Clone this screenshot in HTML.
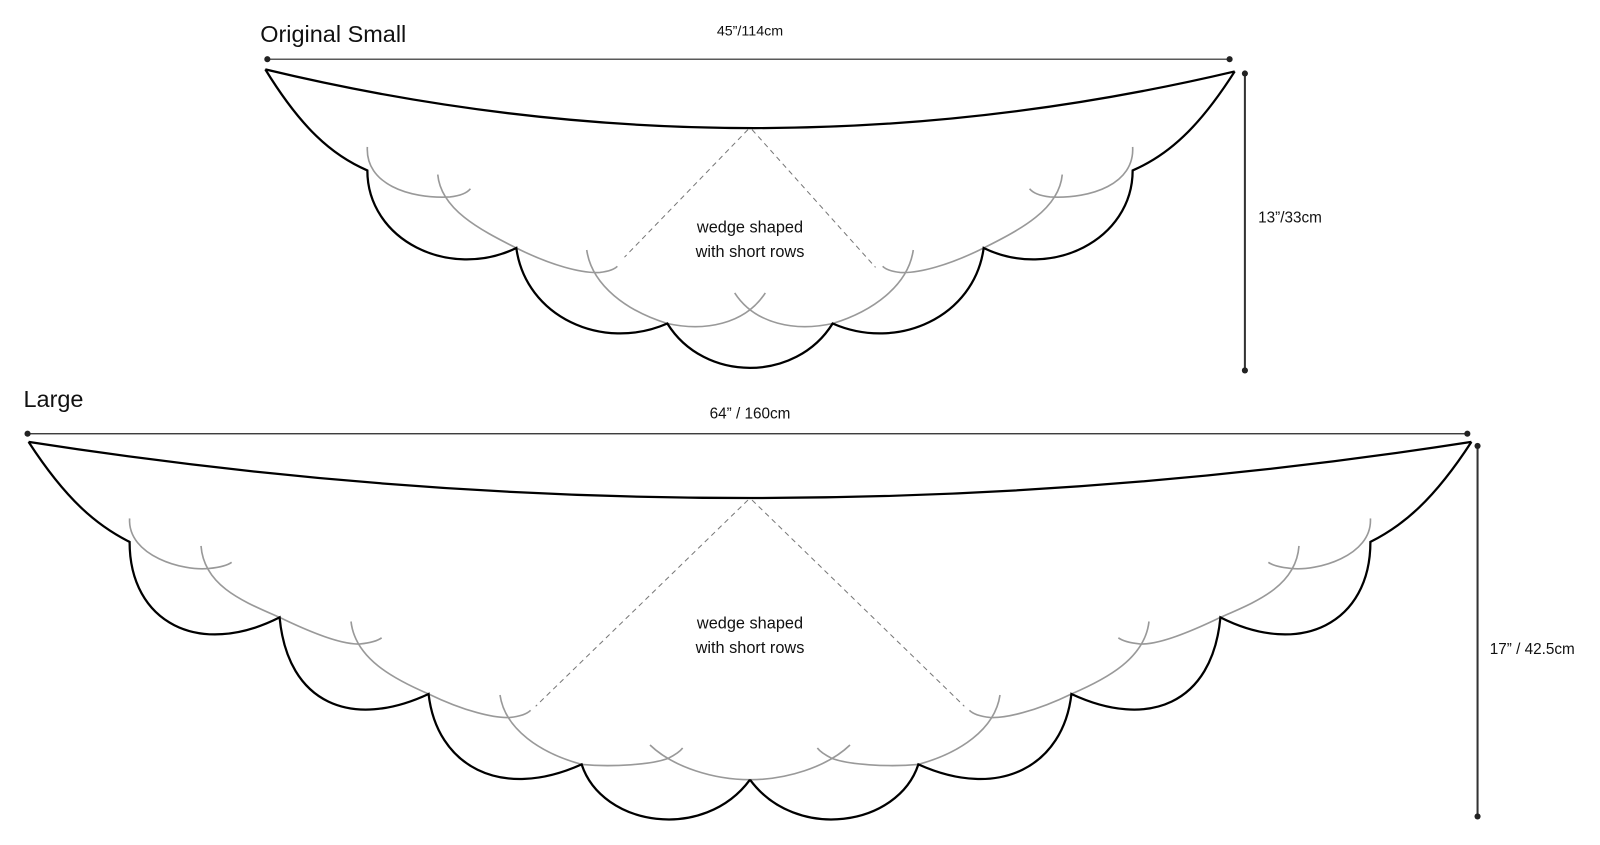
<!DOCTYPE html>
<html><head><meta charset="utf-8"><style>
html,body{margin:0;padding:0;background:#fff;}
svg{display:block;}
text{font-family:"Liberation Sans",sans-serif;fill:#111;}
</style></head><body>
<svg width="1600" height="845" viewBox="0 0 1568 828" preserveAspectRatio="none" xmlns="http://www.w3.org/2000/svg">
<defs>
<g id="sg">
<path d="M360,144 C358,180 400,195 441,193 C450,192 457,190 461,185"/>
<path d="M429,171 C432,205 470,225 506,243 C540,260 570,268 588,267 C596,266 602,264 605,261"/>
<path d="M575,245 C580,280 615,305 654,317 C690,325 730,318 750,287"/>
</g>
<g id="lb">
<path d="M28,433 C65,490 95,515 127,531 C127,610 195,645 274,605 C282,690 345,715 420,680 C428,750 490,785 570,749 C590,810 690,825 735,764"/>
</g>
<g id="lg">
<path d="M127,508 C125,545 180,560 205,557 C215,556 223,554 227,551"/>
<path d="M197,535 C200,575 240,590 274,605 C305,620 335,632 353,631 C362,630 370,628 374,625"/>
<path d="M344,609 C348,645 385,665 420,680 C455,697 485,704 500,703 C509,702 516,700 520,696"/>
<path d="M490,681 C495,715 530,738 570,749 C600,752 640,749 655,743 C661,740 666,737 669,733"/>
<path d="M637,730 C660,752 700,764 735,764"/>
</g>
</defs>

<!-- Small -->
<text x="255" y="41" font-size="23">Original Small</text>
<text x="735" y="35" font-size="14" text-anchor="middle">45”/114cm</text>
<line x1="262" y1="58" x2="1205" y2="58" stroke="#222" stroke-width="1.2"/>
<circle cx="262" cy="58" r="3" fill="#222"/><circle cx="1205" cy="58" r="3" fill="#222"/>
<line x1="1220" y1="72" x2="1220" y2="363" stroke="#333" stroke-width="2"/>
<circle cx="1220" cy="72" r="3" fill="#222"/><circle cx="1220" cy="363" r="3" fill="#222"/>
<text x="1233" y="218" font-size="15">13”/33cm</text>

<g fill="none" stroke="#999" stroke-width="1.6">
<use href="#sg"/><use href="#sg" transform="translate(1470,0) scale(-1,1)"/>
</g>
<g fill="none" stroke="#777" stroke-width="1" stroke-dasharray="5,4">
<path d="M733,127 L612,252"/><path d="M737,127 L858,262"/>
</g>
<path d="M260,68 Q735,182 1210,70" fill="none" stroke="#000" stroke-width="2.2"/>
<g fill="none" stroke="#000" stroke-width="2.2">
<path d="M260,68 C295,125 325,152 360,167 C360,235 440,275 506,243 C515,310 590,345 654,317 C690,375 780,375 816,317 C880,345 955,310 964,243 C1030,275 1110,235 1110,167 C1145,152 1175,125 1210,70"/>
</g>
<text x="735" y="228" font-size="16" text-anchor="middle">wedge shaped</text>
<text x="735" y="252" font-size="16" text-anchor="middle">with short rows</text>

<!-- Large -->
<text x="23" y="399" font-size="23">Large</text>
<text x="735" y="410" font-size="15" text-anchor="middle">64” / 160cm</text>
<line x1="27" y1="425" x2="1438" y2="425" stroke="#222" stroke-width="1.2"/>
<circle cx="27" cy="425" r="3" fill="#222"/><circle cx="1438" cy="425" r="3" fill="#222"/>
<line x1="1448" y1="437" x2="1448" y2="800" stroke="#333" stroke-width="2"/>
<circle cx="1448" cy="437" r="3" fill="#222"/><circle cx="1448" cy="800" r="3" fill="#222"/>
<text x="1460" y="641" font-size="15">17” / 42.5cm</text>

<g fill="none" stroke="#999" stroke-width="1.6">
<use href="#lg"/><use href="#lg" transform="translate(1470,0) scale(-1,1)"/>
</g>
<g fill="none" stroke="#777" stroke-width="1" stroke-dasharray="5,4">
<path d="M733,490 L525,692"/><path d="M737,490 L945,692"/>
</g>
<path d="M28,433 Q735,543 1442,433" fill="none" stroke="#000" stroke-width="2.2"/>
<g fill="none" stroke="#000" stroke-width="2.2">
<use href="#lb"/><use href="#lb" transform="translate(1470,0) scale(-1,1)"/>
</g>
<text x="735" y="616" font-size="16" text-anchor="middle">wedge shaped</text>
<text x="735" y="640" font-size="16" text-anchor="middle">with short rows</text>
</svg>
</body></html>
